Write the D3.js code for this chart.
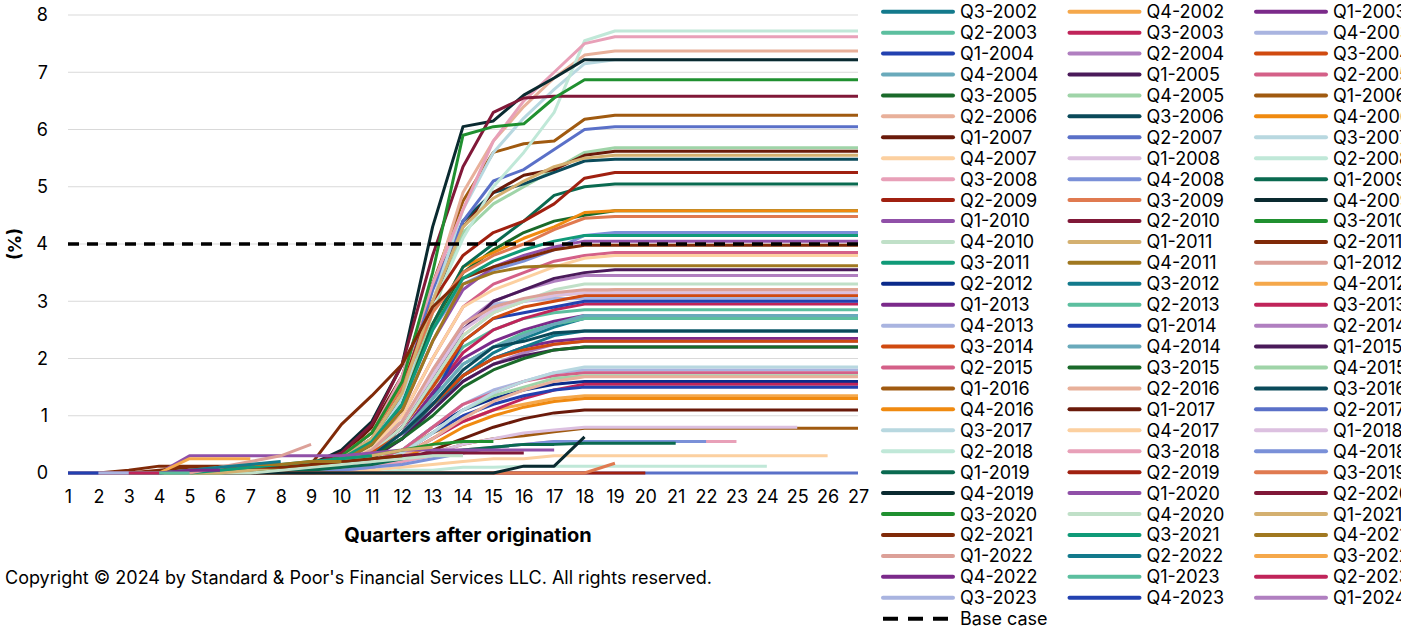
<!DOCTYPE html>
<html><head><meta charset="utf-8">
<script src="https://cdn.jsdelivr.net/npm/d3@7"></script>
<style>
body{margin:0;background:#fff}
text{font-family:Inter,"Liberation Sans",Arial,sans-serif;fill:#000}
</style>
</head><body>
<svg id="c" width="1401" height="629"></svg>
<script>
const vintages = ["Q3-2002","Q4-2002",
"Q1-2003","Q2-2003","Q3-2003","Q4-2003","Q1-2004","Q2-2004","Q3-2004","Q4-2004",
"Q1-2005","Q2-2005","Q3-2005","Q4-2005","Q1-2006","Q2-2006","Q3-2006","Q4-2006",
"Q1-2007","Q2-2007","Q3-2007","Q4-2007","Q1-2008","Q2-2008","Q3-2008","Q4-2008",
"Q1-2009","Q2-2009","Q3-2009","Q4-2009","Q1-2010","Q2-2010","Q3-2010","Q4-2010",
"Q1-2011","Q2-2011","Q3-2011","Q4-2011","Q1-2012","Q2-2012","Q3-2012","Q4-2012",
"Q1-2013","Q2-2013","Q3-2013","Q4-2013","Q1-2014","Q2-2014","Q3-2014","Q4-2014",
"Q1-2015","Q2-2015","Q3-2015","Q4-2015","Q1-2016","Q2-2016","Q3-2016","Q4-2016",
"Q1-2017","Q2-2017","Q3-2017","Q4-2017","Q1-2018","Q2-2018","Q3-2018","Q4-2018",
"Q1-2019","Q2-2019","Q3-2019","Q4-2019","Q1-2020","Q2-2020","Q3-2020","Q4-2020",
"Q1-2021","Q2-2021","Q3-2021","Q4-2021","Q1-2022","Q2-2022","Q3-2022","Q4-2022",
"Q1-2023","Q2-2023","Q3-2023","Q4-2023","Q1-2024"];

// cumulative default rate (%) by quarter after origination (1..n), one array per vintage
const cumulativeDefaults = [
[0,0,0,0,0,0,0,0.05,0.1,0.15,0.3,0.6,1.1,1.7,2.1,2.35,2.55,2.7,2.75,2.75,2.75,2.75,2.75,2.75,2.75,2.75,2.75],
[0,0,0,0,0,0,0.05,0.1,0.2,0.3,0.55,0.9,1.6,2.4,2.8,3.0,3.1,3.15,3.2,3.2,3.2,3.2,3.2,3.2,3.2,3.2,3.2],
[0,0,0,0,0,0,0,0,0.1,0.2,0.35,0.7,1.2,1.7,2.0,2.2,2.3,2.35,2.35,2.35,2.35,2.35,2.35,2.35,2.35,2.35,2.35],
[0,0,0,0,0,0,0,0.1,0.15,0.2,0.4,0.8,1.5,2.2,2.5,2.7,2.8,2.85,2.85,2.85,2.85,2.85,2.85,2.85,2.85,2.85,2.85],
[0,0,0,0,0,0,0,0,0.05,0.15,0.3,0.7,1.4,2.1,2.5,2.7,2.85,2.95,2.95,2.95,2.95,2.95,2.95,2.95,2.95,2.95,2.95],
[0,0,0,0,0,0,0,0.05,0.1,0.2,0.45,0.9,1.7,2.5,2.95,3.0,3.05,3.05,3.05,3.05,3.05,3.05,3.05,3.05,3.05,3.05,3.05],
[0,0,0,0,0,0,0,0,0.05,0.1,0.3,0.6,1.3,2.3,2.7,2.8,2.9,3.0,3.0,3.0,3.0,3.0,3.0,3.0,3.0,3.0,3.0],
[0,0,0,0,0,0,0,0.05,0.1,0.2,0.4,0.9,1.7,2.6,3.0,3.2,3.35,3.45,3.45,3.45,3.45,3.45,3.45,3.45,3.45,3.45,3.45],
[0,0,0,0,0,0,0,0,0.1,0.2,0.4,0.8,1.5,2.3,2.7,2.9,3.0,3.1,3.1,3.1,3.1,3.1,3.1,3.1,3.1,3.1,3.1],
[0,0,0,0,0,0,0,0.05,0.1,0.15,0.35,0.7,1.3,1.9,2.2,2.4,2.6,2.7,2.7,2.7,2.7,2.7,2.7,2.7,2.7,2.7,2.7],
[0,0,0,0,0,0,0,0,0.05,0.15,0.35,0.8,1.6,2.5,3.0,3.2,3.4,3.5,3.55,3.55,3.55,3.55,3.55,3.55,3.55,3.55,3.55],
[0,0,0,0,0,0,0,0.05,0.1,0.2,0.5,1.0,2.0,2.9,3.3,3.5,3.7,3.8,3.85,3.85,3.85,3.85,3.85,3.85,3.85,3.85,3.85],
[0,0,0,0,0,0,0,0.05,0.1,0.25,0.6,1.3,2.6,3.5,3.9,4.2,4.4,4.5,4.58,4.58,4.58,4.58,4.58,4.58,4.58,4.58,4.58],
[0,0,0,0,0,0,0,0.05,0.1,0.2,0.5,1.2,2.8,4.2,4.7,5.0,5.3,5.6,5.68,5.68,5.68,5.68,5.68,5.68,5.68,5.68,5.68],
[0,0,0,0,0,0,0,0.05,0.15,0.3,0.7,1.6,3.3,4.75,5.6,5.75,5.8,6.18,6.25,6.25,6.25,6.25,6.25,6.25,6.25,6.25,6.25],
[0,0,0,0,0,0,0,0.05,0.15,0.3,0.6,1.5,3.2,4.9,5.8,6.4,6.9,7.3,7.37,7.37,7.37,7.37,7.37,7.37,7.37,7.37,7.37],
[0,0,0,0,0,0,0,0.05,0.1,0.25,0.6,1.4,2.9,4.4,4.9,5.05,5.25,5.45,5.48,5.48,5.48,5.48,5.48,5.48,5.48,5.48,5.48],
[0,0,0,0,0,0,0,0,0.1,0.2,0.55,1.2,2.6,3.6,3.85,4.1,4.3,4.55,4.58,4.58,4.58,4.58,4.58,4.58,4.58,4.58,4.58],
[0,0,0,0,0,0,0,0.05,0.1,0.3,0.8,1.7,3.3,4.3,4.9,5.2,5.3,5.55,5.62,5.62,5.62,5.62,5.62,5.62,5.62,5.62,5.62],
[0,0,0,0,0,0,0,0.05,0.1,0.25,0.6,1.4,3.2,4.4,5.1,5.3,5.65,6.0,6.05,6.05,6.05,6.05,6.05,6.05,6.05,6.05,6.05],
[0,0,0,0,0,0,0,0.05,0.1,0.2,0.5,1.3,3.0,4.6,5.6,6.2,6.7,7.15,7.22,7.22,7.22,7.22,7.22,7.22,7.22,7.22,7.22],
[0,0,0,0,0,0,0,0.05,0.1,0.2,0.45,1.0,2.0,2.9,3.2,3.4,3.6,3.75,3.8,3.8,3.8,3.8,3.8,3.8,3.8,3.8,3.8],
[0,0,0,0,0,0,0,0,0.05,0.15,0.4,0.9,1.7,2.5,2.85,3.0,3.1,3.15,3.15,3.15,3.15,3.15,3.15,3.15,3.15,3.15,3.15],
[0,0,0,0,0,0,0,0.05,0.1,0.25,0.6,1.5,2.9,4.1,5.0,5.6,6.3,7.55,7.72,7.72,7.72,7.72,7.72,7.72,7.72,7.72,7.72],
[0,0,0,0,0,0,0,0.05,0.15,0.3,0.7,1.7,3.3,4.6,5.8,6.5,7.0,7.5,7.62,7.62,7.62,7.62,7.62,7.62,7.62,7.62,7.62],
[0,0,0,0,0,0,0,0.05,0.1,0.2,0.5,1.2,2.5,3.3,3.55,3.7,3.9,4.15,4.2,4.2,4.2,4.2,4.2,4.2,4.2,4.2,4.2],
[0,0,0,0,0,0,0,0.05,0.1,0.2,0.5,1.2,2.6,3.6,4.0,4.4,4.85,5.0,5.05,5.05,5.05,5.05,5.05,5.05,5.05,5.05,5.05],
[0,0,0,0,0,0,0,0.05,0.1,0.3,0.7,1.5,3.0,3.8,4.2,4.4,4.7,5.15,5.25,5.25,5.25,5.25,5.25,5.25,5.25,5.25,5.25],
[0,0,0,0,0,0,0,0.05,0.15,0.3,0.7,1.5,2.8,3.5,3.8,4.0,4.25,4.45,4.48,4.48,4.48,4.48,4.48,4.48,4.48,4.48,4.48],
[0,0,0,0,0,0,0,0.05,0.15,0.4,0.9,1.9,4.3,6.05,6.15,6.6,6.9,7.22,7.22,7.22,7.22,7.22,7.22,7.22,7.22,7.22,7.22],
[0,0,0,0,0,0,0,0.05,0.1,0.25,0.55,1.1,2.3,3.2,3.6,3.8,3.95,4.05,4.05,4.05,4.05,4.05,4.05,4.05,4.05,4.05,4.05],
[0,0,0,0,0,0,0,0.05,0.15,0.35,0.85,1.9,3.8,5.35,6.3,6.55,6.58,6.58,6.58,6.58,6.58,6.58,6.58,6.58,6.58,6.58,6.58],
[0,0,0,0,0,0,0,0.05,0.1,0.3,0.7,1.6,3.5,5.9,6.05,6.1,6.55,6.87,6.87,6.87,6.87,6.87,6.87,6.87,6.87,6.87,6.87],
[0,0,0,0,0,0,0,0,0.05,0.15,0.35,0.8,1.6,2.4,2.8,3.0,3.2,3.3,3.3,3.3,3.3,3.3,3.3,3.3,3.3,3.3,3.3],
[0,0,0,0,0,0,0,0.05,0.1,0.25,0.6,1.4,3.0,4.3,4.8,5.1,5.35,5.5,5.55,5.55,5.55,5.55,5.55,5.55,5.55,5.55,5.55],
[0,0,0.05,0.12,0.12,0.12,0.12,0.12,0.15,0.85,1.35,1.9,2.9,3.4,3.6,3.75,3.9,3.98,3.98,3.98,3.98,3.98,3.98,3.98,3.98,3.98,3.98],
[0,0,0,0,0,0,0,0.05,0.1,0.25,0.55,1.2,2.5,3.4,3.7,3.9,4.05,4.15,4.15,4.15,4.15,4.15,4.15,4.15,4.15,4.15,4.15],
[0,0,0,0,0,0,0,0.05,0.1,0.2,0.5,1.1,2.3,3.3,3.5,3.6,3.62,3.62,3.62,3.62,3.62,3.62,3.62,3.62,3.62,3.62,3.62],
[0,0,0,0,0,0,0,0,0.05,0.15,0.4,0.9,1.8,2.6,2.9,3.05,3.15,3.2,3.2,3.2,3.2,3.2,3.2,3.2,3.2,3.2,3.2],
[0,0,0,0,0,0,0,0,0,0.1,0.2,0.4,0.8,1.1,1.3,1.45,1.55,1.6,1.6,1.6,1.6,1.6,1.6,1.6,1.6,1.6,1.6],
[0,0,0,0,0,0,0,0,0.05,0.1,0.3,0.6,1.2,1.7,2.0,2.2,2.4,2.48,2.48,2.48,2.48,2.48,2.48,2.48,2.48,2.48,2.48],
[0,0,0,0,0,0,0,0,0.05,0.1,0.2,0.4,0.7,0.9,1.1,1.2,1.3,1.35,1.35,1.35,1.35,1.35,1.35,1.35,1.35,1.35,1.35],
[0,0,0,0,0,0,0,0,0.05,0.1,0.3,0.7,1.4,2.0,2.3,2.5,2.65,2.75,2.75,2.75,2.75,2.75,2.75,2.75,2.75,2.75,2.75],
[0,0,0,0,0,0,0,0,0.05,0.15,0.3,0.7,1.3,1.9,2.2,2.45,2.6,2.7,2.7,2.7,2.7,2.7,2.7,2.7,2.7,2.7,2.7],
[0,0,0,0,0,0,0,0,0,0.05,0.15,0.3,0.6,0.9,1.1,1.3,1.45,1.55,1.55,1.55,1.55,1.55,1.55,1.55,1.55,1.55,1.55],
[0,0,0,0,0,0,0,0,0.05,0.1,0.2,0.4,0.8,1.2,1.45,1.6,1.75,1.8,1.8,1.8,1.8,1.8,1.8,1.8,1.8,1.8,1.8],
[0,0,0,0,0,0,0,0,0,0.05,0.15,0.35,0.7,1.0,1.2,1.35,1.45,1.5,1.5,1.5,1.5,1.5,1.5,1.5,1.5,1.5,1.5],
[0,0,0,0,0,0,0,0,0.05,0.1,0.3,0.6,1.1,1.6,1.9,2.1,2.25,2.3,2.3,2.3,2.3,2.3,2.3,2.3,2.3,2.3,2.3],
[0,0,0,0,0,0,0,0,0.05,0.15,0.35,0.7,1.2,1.7,2.0,2.15,2.25,2.3,2.3,2.3,2.3,2.3,2.3,2.3,2.3,2.3,2.3],
[0,0,0,0,0,0,0,0,0.05,0.1,0.3,0.7,1.3,1.9,2.2,2.4,2.6,2.75,2.75,2.75,2.75,2.75,2.75,2.75,2.75,2.75,2.75],
[0,0,0,0,0,0,0,0,0.05,0.1,0.25,0.6,1.1,1.6,1.9,2.05,2.15,2.2,2.2,2.2,2.2,2.2,2.2,2.2,2.2,2.2,2.2],
[0,0,0,0,0,0,0,0,0,0.05,0.2,0.4,0.8,1.2,1.4,1.6,1.7,1.75,1.75,1.75,1.75,1.75,1.75,1.75,1.75,1.75,1.75],
[0,0,0,0,0,0,0,0,0.05,0.15,0.3,0.6,1.0,1.5,1.8,2.0,2.15,2.2,2.2,2.2,2.2,2.2,2.2,2.2,2.2,2.2,2.2],
[0,0,0,0,0,0,0,0,0,0.05,0.15,0.35,0.7,1.1,1.35,1.5,1.65,1.7,1.7,1.7,1.7,1.7,1.7,1.7,1.7,1.7,1.7],
[0,0,0,0,0,0,0,0,0,0.05,0.1,0.2,0.35,0.5,0.6,0.65,0.72,0.78,0.78,0.78,0.78,0.78,0.78,0.78,0.78,0.78,0.78],
[0,0,0,0,0,0,0,0,0,0.05,0.15,0.3,0.6,0.95,1.25,1.45,1.6,1.68,1.68,1.68,1.68,1.68,1.68,1.68,1.68,1.68,1.68],
[0,0,0,0,0,0,0,0,0.05,0.1,0.3,0.7,1.2,1.8,2.2,2.3,2.45,2.48,2.48,2.48,2.48,2.48,2.48,2.48,2.48,2.48,2.48],
[0,0,0,0,0,0,0,0,0,0.05,0.1,0.25,0.5,0.8,1.0,1.15,1.25,1.3,1.3,1.3,1.3,1.3,1.3,1.3,1.3,1.3,1.3],
[0,0,0,0,0,0,0,0,0,0.05,0.1,0.2,0.4,0.6,0.8,0.95,1.05,1.1,1.1,1.1,1.1,1.1,1.1,1.1,1.1,1.1,1.1],
[0,0,0,0,0,0,0,0,0,0,0,0,0,0,0,0,0,0,0,0,0,0,0,0,0,0,0],
[0,0,0,0,0,0,0,0,0,0.05,0.15,0.35,0.7,1.1,1.4,1.6,1.75,1.85,1.85,1.85,1.85,1.85,1.85,1.85,1.85,1.85,1.85],
[0,0,0,0,0,0,0,0,0,0,0.05,0.1,0.15,0.2,0.25,0.25,0.3,0.3,0.3,0.3,0.3,0.3,0.3,0.3,0.3,0.3],
[0,0,0,0,0,0,0,0,0,0.05,0.1,0.2,0.35,0.5,0.6,0.7,0.75,0.8,0.8,0.8,0.8,0.8,0.8,0.8,0.8],
[0,0,0,0,0,0,0,0,0,0,0,0.05,0.05,0.1,0.1,0.12,0.12,0.12,0.12,0.12,0.12,0.12,0.12,0.12],
[0,0,0,0,0,0,0,0,0,0.05,0.1,0.2,0.3,0.4,0.45,0.5,0.55,0.55,0.55,0.55,0.55,0.55,0.55],
[0,0,0,0,0,0,0,0,0,0.05,0.1,0.15,0.25,0.35,0.45,0.5,0.55,0.55,0.55,0.55,0.55,0.55],
[0,0,0,0,0,0,0,0,0.05,0.1,0.15,0.25,0.35,0.4,0.45,0.5,0.5,0.52,0.52,0.52,0.52],
[0,0,0,0,0,0,0,0,0,0,0,0,0,0,0,0,0,0,0,0],
[0,0,0,0,0,0,0,0,0,0,0,0,0,0,0,0,0,0,0.17],
[0,0,0,0,0,0,0,0,0,0,0,0,0,0,0,0.12,0.12,0.63],
[0,0,0,0,0.3,0.3,0.3,0.3,0.3,0.3,0.35,0.4,0.4,0.4,0.4,0.4,0.4],
[0,0,0,0,0,0.05,0.1,0.1,0.15,0.2,0.25,0.3,0.35,0.35,0.35,0.35],
[0,0,0,0,0,0,0.05,0.1,0.15,0.2,0.3,0.4,0.5,0.55,0.55],
[0,0,0,0,0,0,0,0.05,0.1,0.15,0.2,0.25,0.3,0.3],
[0,0,0,0,0,0,0.05,0.1,0.15,0.2,0.3,0.4,0.45],
[0,0,0,0.05,0.1,0.1,0.1,0.1,0.15,0.2,0.25,0.3],
[0,0,0,0,0,0.05,0.1,0.15,0.2,0.25,0.3],
[0,0,0,0,0.05,0.1,0.15,0.15,0.2,0.2],
[0,0,0,0,0,0.1,0.2,0.3,0.5],
[0,0,0,0,0.05,0.1,0.15,0.2],
[0,0,0,0,0.25,0.25,0.25],
[0,0,0,0,0.05,0.05],
[0,0,0,0,0],
[0,0,0,0],
[0,0,0],
[0,0],
[0]
];

const baseCase = 4;
const xTicks = d3.range(1, 28);
const yTicks = [0,1,2,3,4,5,6,7,8];

const palette = ["#137a8c","#f5a84b","#7b2a8a","#5cbf9f","#c0245a","#a9b4e0","#2241b0","#b07fc0","#d04a10","#6aaabb",
"#4a1a5a","#d46088","#1a6a2a","#9fd4a8","#a05a10","#e8b09a","#0a4a5a","#f08a10","#6a1a0a","#5a70c8",
"#b8d8e0","#fcd0a0","#dcc0e0","#c0e8d8","#e8a0b8","#7a90d8","#0a6a50","#a02010","#e07a50","#0a2a30",
"#9050a8","#801838","#209030","#c0e0c8","#d4b070","#802a08","#109a78","#a07820","#dca098","#0a2a8a"];
const colorOf = i => i < 79 ? palette[i % 40] : palette[(i - 79) % 40];

const svg = d3.select("#c");
const x = d3.scaleLinear().domain([1, 27]).range([68, 858]);
const y = d3.scaleLinear().domain([0, 8]).range([473, 15]);

// grid
svg.append("g").selectAll("line").data(yTicks).join("line")
  .attr("x1", x(1)).attr("x2", x(27))
  .attr("y1", d => y(d)).attr("y2", d => y(d))
  .attr("stroke", d => d === 0 ? "#bfbfbf" : "#d9d9d9").attr("stroke-width", 1);

// axes labels
const yAxis = svg.append("g").attr("transform", `translate(${x(1)},0)`)
  .call(d3.axisLeft(y).tickValues(yTicks).tickSize(0).tickPadding(20).tickFormat(d3.format("d")));
yAxis.select(".domain").remove();
yAxis.selectAll("text").attr("font-size", 18).style("font-family", "Inter,'Liberation Sans',Arial,sans-serif");

const xAxis = svg.append("g").attr("transform", `translate(0,${y(0)})`)
  .call(d3.axisBottom(x).tickValues(xTicks).tickSize(0).tickPadding(17).tickFormat(d3.format("d")));
xAxis.select(".domain").remove();
xAxis.selectAll("text").attr("font-size", 18).style("font-family", "Inter,'Liberation Sans',Arial,sans-serif");

// lines
const line = d3.line().x((d, i) => x(i + 1)).y(d => y(d));
svg.append("g").selectAll("path").data(cumulativeDefaults).join("path")
  .attr("d", d => line(d))
  .attr("fill", "none")
  .attr("stroke", (d, i) => colorOf(i))
  .attr("stroke-width", 3)
  .attr("stroke-linejoin", "round");

// base case
svg.append("path")
  .attr("d", d3.line()([[x(1), y(baseCase)], [x(27), y(baseCase)]]))
  .attr("stroke", "#000").attr("stroke-width", 3.5).attr("stroke-dasharray", "11,8").attr("fill", "none");

// titles
svg.append("text").attr("x", 468).attr("y", 542).attr("text-anchor", "middle")
  .attr("font-size", 20).attr("font-weight", "bold").text("Quarters after origination");
svg.append("text").attr("transform", "translate(21,244) rotate(-90)").attr("text-anchor", "middle")
  .attr("font-size", 18).attr("font-weight", "bold").text("(%)");
svg.append("text").attr("x", 5).attr("y", 584).attr("font-size", 18)
  .text("Copyright © 2024 by Standard & Poor's Financial Services LLC. All rights reserved.");

// legend
const legendItems = vintages.map((v, i) => ({name: v, color: colorOf(i), dash: false}))
  .concat([{name: "Base case", color: "#000", dash: true}]);
const lg = svg.append("g").selectAll("g").data(legendItems).join("g")
  .attr("transform", (d, i) => `translate(${883 + (i % 3) * 186.5},${11.7 + Math.floor(i / 3) * 20.93})`);
lg.append("line").attr("x1", 0).attr("x2", 70).attr("y1", 0).attr("y2", 0)
  .attr("stroke", d => d.color).attr("stroke-width", 4)
  .attr("stroke-linecap", d => d.dash ? "butt" : "round")
  .attr("stroke-dasharray", d => d.dash ? "15,10" : null);
lg.append("text").attr("x", 77).attr("y", 0).attr("dy", "0.36em").attr("font-size", 18).text(d => d.name);
</script>
</body></html>
